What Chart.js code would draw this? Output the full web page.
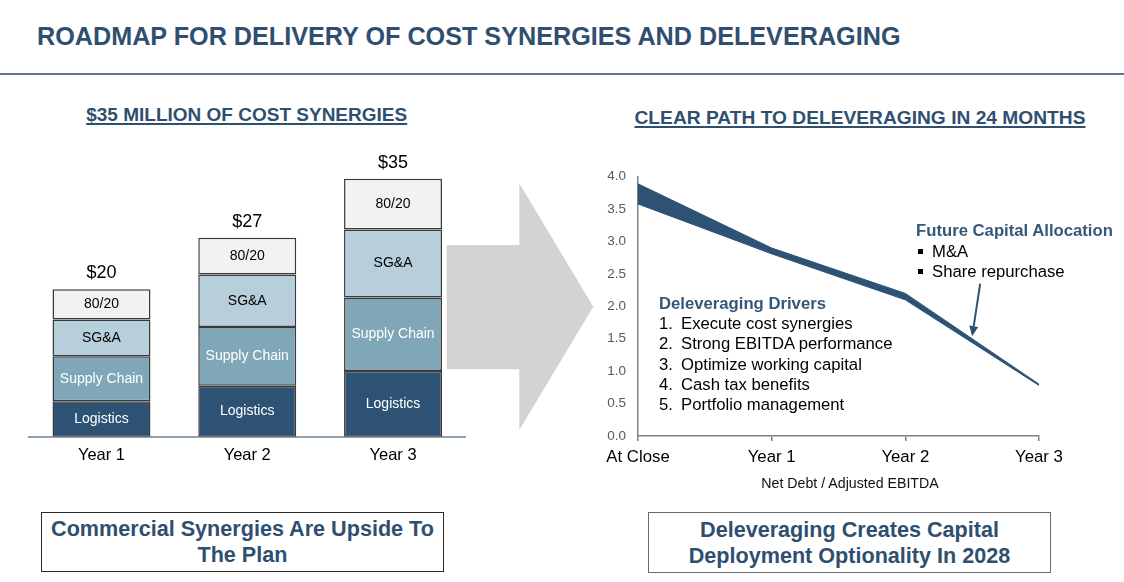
<!DOCTYPE html>
<html>
<head>
<meta charset="utf-8">
<script src="https://cdn.jsdelivr.net/npm/chart.js@4.4.1/dist/chart.umd.min.js"></script>
<style>
  html, body { margin: 0; padding: 0; background: #ffffff; }
  body { width: 1124px; height: 582px; position: relative; overflow: hidden;
         font-family: "Liberation Sans", Arial, Helvetica, sans-serif; }
  .abs { position: absolute; white-space: nowrap; }
  .navy { color: #2f4f70; }
  #title { left: 37px; top: 21px; font-size: 25.2px; line-height: 30px; font-weight: bold; }
  #rule1 { left: 0; top: 73px; width: 1124px; height: 1.5px; background: #5d7792; }
  .sub { font-weight: bold; text-align: center; text-decoration: underline;
         text-decoration-thickness: 2px; text-underline-offset: 2px; }
  #subL { left: 46.7px; width: 400px; top: 102.7px; font-size: 19px; line-height: 24px; }
  #subR { left: 560px; width: 600px; top: 106.3px; font-size: 19.2px; line-height: 24px; }
  #arrow { left: 0; top: 0; }
  canvas { position: absolute; }
  #barCanvas { left: 0; top: 130px; }
  #lineCanvas { left: 580px; top: 150px; }
  .note { font-size: 16.7px; line-height: 20px; color: #000; }
  .noteHead { font-size: 16.7px; line-height: 20px; font-weight: bold; color: #34587a; }
  .num { display: inline-block; width: 22px; }
  .sq { display: inline-block; width: 5px; height: 5px; background: #000; vertical-align: middle;
        margin-right: 9px; position: relative; top: -1px; }
  .box { position: absolute; box-sizing: border-box; display: flex; align-items: center;
         justify-content: center; text-align: center; font-weight: bold; font-size: 21.6px;
         line-height: 26px; color: #2f4f70; background: #fff; }
  #boxL { left: 41px; top: 512px; width: 403px; height: 60px; border: 1px solid #2b2b2b; }
  #boxR { left: 648px; top: 512px; width: 403px; height: 61px; border: 1px solid #6b6b6b; }
  #xTitle { left: 700px; width: 300px; top: 475px; text-align: center; font-size: 14.2px; line-height: 16px; color: #111; }
</style>
</head>
<body>
<div id="title" class="abs navy">ROADMAP FOR DELIVERY OF COST SYNERGIES AND DELEVERAGING</div>
<div id="rule1" class="abs"></div>
<div id="subL" class="abs navy sub">$35 MILLION OF COST SYNERGIES</div>
<div id="subR" class="abs navy sub">CLEAR PATH TO DELEVERAGING IN 24 MONTHS</div>

<svg id="arrow" class="abs" width="1124" height="582">
  <polygon points="446.7,245 519.3,245 519.3,183.3 593.3,306.7 519.3,430 519.3,369.3 446.7,369.3" fill="#d5d2d2"/>
</svg>

<canvas id="barCanvas" width="500" height="360"></canvas>
<canvas id="lineCanvas" width="544" height="350"></canvas>

<div class="abs noteHead" style="left:659px;top:294px;">Deleveraging Drivers</div>
<div class="abs note" style="left:659px;top:314px;"><span class="num">1.</span>Execute cost synergies</div>
<div class="abs note" style="left:659px;top:334.3px;"><span class="num">2.</span>Strong EBITDA performance</div>
<div class="abs note" style="left:659px;top:354.5px;"><span class="num">3.</span>Optimize working capital</div>
<div class="abs note" style="left:659px;top:375px;"><span class="num">4.</span>Cash tax benefits</div>
<div class="abs note" style="left:659px;top:395px;"><span class="num">5.</span>Portfolio management</div>

<div class="abs noteHead" style="left:916px;top:221px;">Future Capital Allocation</div>
<div class="abs note" style="left:918px;top:241.5px;"><span class="sq"></span>M&amp;A</div>
<div class="abs note" style="left:918px;top:261.5px;"><span class="sq"></span>Share repurchase</div>

<div id="xTitle" class="abs">Net Debt / Adjusted EBITDA</div>

<div id="boxL" class="box"><div>Commercial Synergies Are Upside To<br>The Plan</div></div>
<div id="boxR" class="box"><div>Deleveraging Creates Capital<br>Deployment Optionality In 2028</div></div>

<script>
// ---------------- data ----------------
const barCategories = ['Year 1', 'Year 2', 'Year 3'];
const logistics   = [4.8, 6.9, 8.9];
const supplyChain = [6.1, 8.0, 10.0];
const sga         = [5.0, 7.1, 9.2];
const eightyTwenty = [4.1, 5.0, 6.9];
const totalLabels = ['$20', '$27', '$35'];

const lineCategories = ['At Close', 'Year 1', 'Year 2', 'Year 3'];
const leverageHigh = [3.89, 2.90, 2.20, 0.80];
const leverageLow  = [3.58, 2.81, 2.10, 0.78];
const yTicks = [0.0, 0.5, 1.0, 1.5, 2.0, 2.5, 3.0, 3.5, 4.0];

// callout arrow (category index, value)
const calloutFrom = [2.56, 2.35];
const calloutTo   = [2.50, 1.54];

const FONT = '"Liberation Sans", Arial, Helvetica, sans-serif';
const NAVY = '#2e5274';

// ---------------- left: stacked bars ----------------
const barLabelPlugin = {
  id: 'barLabels',
  afterDatasetsDraw(chart) {
    const ctx = chart.ctx;
    ctx.save();
    ctx.textAlign = 'center';
    ctx.textBaseline = 'middle';
    chart.data.datasets.forEach((ds, i) => {
      const meta = chart.getDatasetMeta(i);
      meta.data.forEach((el) => {
        const p = el.getProps(['x', 'y', 'base'], true);
        ctx.font = '14px ' + FONT;
        ctx.fillStyle = ds.textColor;
        ctx.fillText(ds.label, p.x, (p.y + p.base) / 2);
      });
    });
    const top = chart.getDatasetMeta(chart.data.datasets.length - 1);
    ctx.font = '18px ' + FONT;
    ctx.fillStyle = '#000';
    top.data.forEach((el, j) => {
      const p = el.getProps(['x', 'y'], true);
      ctx.fillText(totalLabels[j], p.x, p.y - 16);
    });
    ctx.restore();
  }
};

function seg(label, data, color, textColor) {
  return { label, data, backgroundColor: color, textColor,
           borderColor: '#3a3a3a', borderWidth: 1.5, borderSkipped: false,
           barPercentage: 0.672, categoryPercentage: 1.0 };
}

new Chart(document.getElementById('barCanvas'), {
  type: 'bar',
  data: {
    labels: barCategories,
    datasets: [
      seg('Logistics', logistics, '#2e5274', '#ffffff'),
      seg('Supply Chain', supplyChain, '#7fa7b8', '#ffffff'),
      seg('SG&A', sga, '#b7cedb', '#000000'),
      seg('80/20', eightyTwenty, '#f2f2f2', '#000000')
    ]
  },
  options: {
    responsive: false, animation: false,
    layout: { padding: { left: 28.6, right: 34.1, top: 11.9, bottom: 23.3 } },
    plugins: { legend: { display: false }, tooltip: { enabled: false } },
    scales: {
      x: {
        stacked: true,
        grid: { display: false, drawTicks: false },
        border: { display: true, color: '#8fa0b0', width: 2 },
        ticks: { color: '#000', font: { family: FONT, size: 16.5 }, padding: 8.5 },
        afterFit: (s) => { s.height = 30; }
      },
      y: {
        stacked: true, display: false, min: 0, max: 40
      }
    }
  },
  plugins: [barLabelPlugin]
});

// ---------------- right: leverage band ----------------
const calloutPlugin = {
  id: 'callout',
  afterDatasetsDraw(chart) {
    const xs = chart.scales.x, ys = chart.scales.y, ctx = chart.ctx;
    const x1 = xs.getPixelForValue(calloutFrom[0]), y1 = ys.getPixelForValue(calloutFrom[1]);
    const x2 = xs.getPixelForValue(calloutTo[0]),   y2 = ys.getPixelForValue(calloutTo[1]);
    const ang = Math.atan2(y2 - y1, x2 - x1);
    const headLen = 10, headW = 4.5;
    const bx = x2 - headLen * Math.cos(ang), by = y2 - headLen * Math.sin(ang);
    ctx.save();
    ctx.strokeStyle = NAVY; ctx.fillStyle = NAVY; ctx.lineWidth = 2;
    ctx.beginPath(); ctx.moveTo(x1, y1); ctx.lineTo(bx, by); ctx.stroke();
    ctx.beginPath();
    ctx.moveTo(x2, y2);
    ctx.lineTo(bx + headW * Math.sin(ang), by - headW * Math.cos(ang));
    ctx.lineTo(bx - headW * Math.sin(ang), by + headW * Math.cos(ang));
    ctx.closePath(); ctx.fill();
    ctx.restore();
  }
};

new Chart(document.getElementById('lineCanvas'), {
  type: 'line',
  data: {
    labels: lineCategories,
    datasets: [
      { label: 'High', data: leverageHigh, borderColor: NAVY, borderWidth: 1,
        pointRadius: 0, fill: false, tension: 0 },
      { label: 'Low', data: leverageLow, borderColor: NAVY, borderWidth: 1,
        backgroundColor: NAVY, pointRadius: 0, fill: '-1', tension: 0 }
    ]
  },
  options: {
    responsive: false, animation: false,
    layout: { padding: { left: 0, right: 85, top: 26.7, bottom: 10 } },
    plugins: { legend: { display: false }, tooltip: { enabled: false } },
    scales: {
      x: {
        type: 'category', offset: false,
        grid: { display: true, drawOnChartArea: false, drawTicks: true, tickLength: 5, color: '#808080', lineWidth: 1.5 },
        border: { display: true, color: '#808080', width: 1.5 },
        ticks: { color: '#000', font: { family: FONT, size: 16.8 }, padding: 6.5, maxRotation: 0, autoSkip: false },
        afterFit: (s) => { s.height = 54; }
      },
      y: {
        min: 0, max: 4,
        afterBuildTicks: (s) => { s.ticks = yTicks.map(v => ({ value: v })); },
        grid: { display: false, drawTicks: false },
        border: { display: true, color: '#808080', width: 1.5 },
        ticks: { color: '#595959', font: { family: FONT, size: 13.5 }, padding: 12,
                 callback: (v) => Number(v).toFixed(1) },
        afterFit: (s) => { s.width = 58; }
      }
    }
  },
  plugins: [calloutPlugin]
});
</script>
</body>
</html>
